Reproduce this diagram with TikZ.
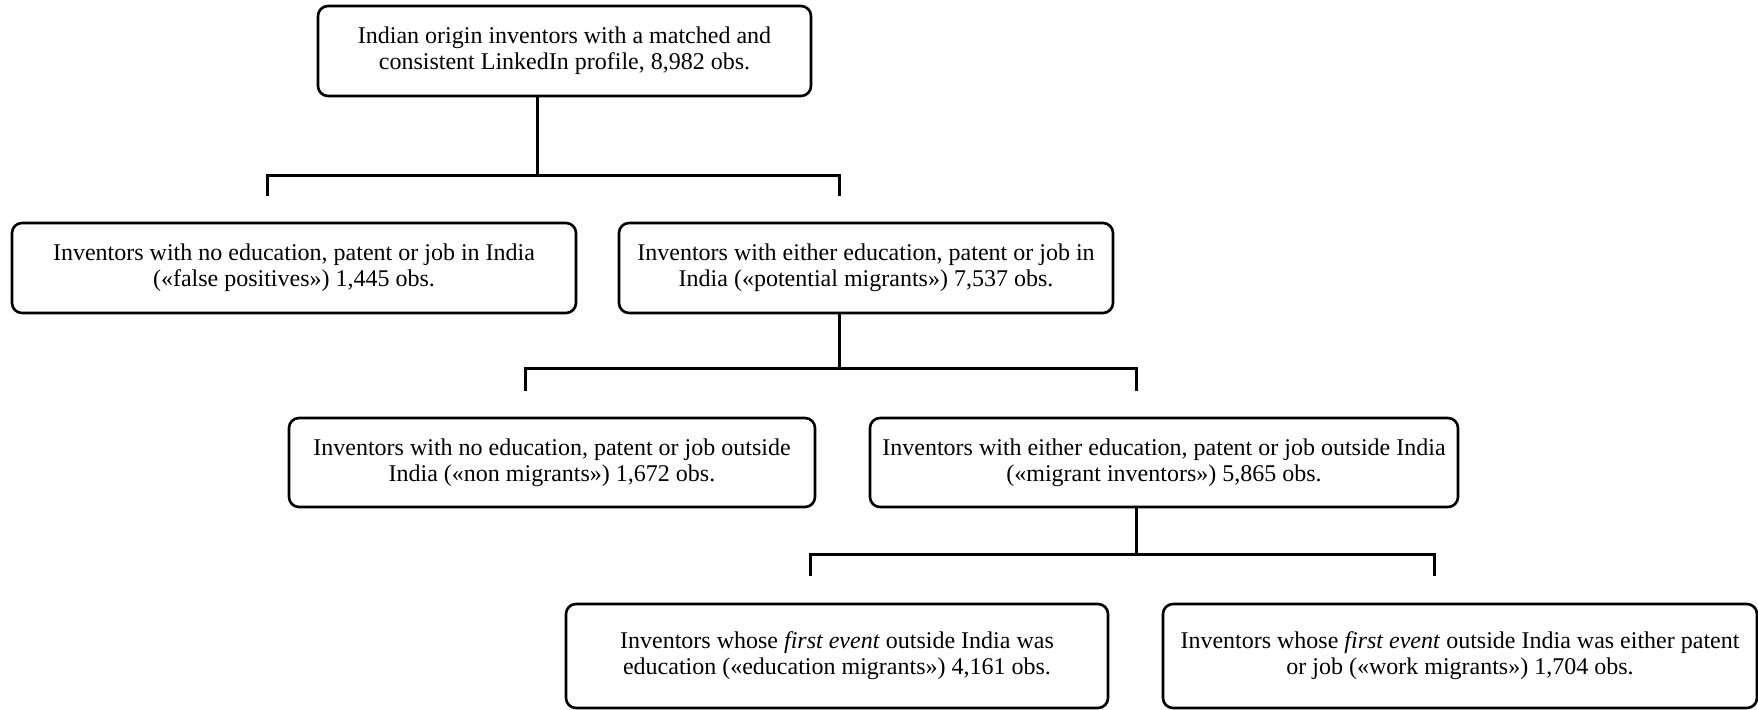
\documentclass[tikz,border=0pt]{standalone}
\usepackage{fontspec}
\setmainfont{Liberation Serif}
\begin{document}
\begin{tikzpicture}[x=0.5pt,y=-0.5pt,
  box/.style={draw=black,line width=1.3pt,rounded corners=5pt,align=center,
    inner sep=0pt,font=\fontsize{12}{12.9}\selectfont},
  conn/.style={draw=black,line width=1.5pt}]
\useasboundingbox (0,0) rectangle (1758,710);
\node[box,minimum width=246.5pt,minimum height=45pt] (top) at (564.5,51)
  {Indian origin inventors with a matched and\\consistent LinkedIn profile, 8,982 obs.};
\node[box,minimum width=282pt,minimum height=45pt] (fp) at (294,268)
  {Inventors with no education, patent or job in India\\(«false positives») 1,445 obs.};
\node[box,minimum width=247pt,minimum height=45pt] (pm) at (866,268)
  {Inventors with either education, patent or job in\\India («potential migrants») 7,537 obs.};
\node[box,minimum width=263pt,minimum height=44.5pt] (nm) at (552,462.5)
  {Inventors with no education, patent or job outside\\India («non migrants») 1,672 obs.};
\node[box,minimum width=294pt,minimum height=44.5pt] (mi) at (1164,462.5)
  {Inventors with either education, patent or job outside India\\(«migrant inventors») 5,865 obs.};
\node[box,minimum width=271pt,minimum height=52pt] (em) at (837,656)
  {Inventors whose \textit{first event} outside India was\\education («education migrants») 4,161 obs.};
\node[box,minimum width=297pt,minimum height=52pt] (wm) at (1460,656)
  {Inventors whose \textit{first event} outside India was either patent\\or job («work migrants») 1,704 obs.};
% junctions and stub ends
\coordinate (j1) at (537,176);
\coordinate (a1) at (267,196);
\coordinate (b1) at (839,196);
\coordinate (j2) at (839,369);
\coordinate (a2) at (525,391);
\coordinate (b2) at (1136,391);
\coordinate (j3) at (1136,555);
\coordinate (a3) at (810,576);
\coordinate (b3) at (1434,576);
\draw[conn] (top.south -| j1) -- (j1);
\draw[conn] (a1) -- (a1 |- j1) -- (b1 |- j1) -- (b1);
\draw[conn] (pm.south -| j2) -- (j2);
\draw[conn] (a2) -- (a2 |- j2) -- (b2 |- j2) -- (b2);
\draw[conn] (mi.south -| j3) -- (j3);
\draw[conn] (a3) -- (a3 |- j3) -- (b3 |- j3) -- (b3);
\end{tikzpicture}
\end{document}
